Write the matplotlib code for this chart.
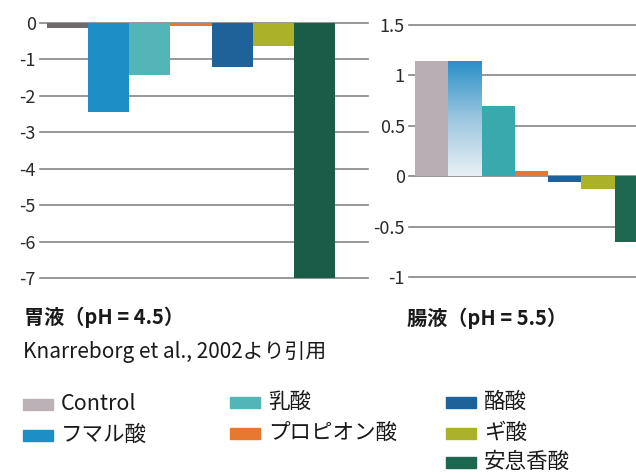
import matplotlib
matplotlib.use("Agg")
import matplotlib.pyplot as plt
import numpy as np
from matplotlib.patches import Rectangle
from matplotlib.colors import LinearSegmentedColormap

plt.rcParams['font.family'] = ['Noto Sans CJK JP', 'DejaVu Sans']

# data
acides = ['Control', 'フマル酸', '乳酸', 'プロピオン酸', '酪酸', 'ギ酸', '安息香酸']
estomac = [-0.14, -2.44, -1.43, -0.08, -1.21, -0.64, -7.0]
intestin = [1.14, 1.14, 0.70, 0.05, -0.06, -0.13, -0.655]
ticks_estomac = [0, -1, -2, -3, -4, -5, -6, -7]
labels_estomac = ['0', '-1', '-2', '-3', '-4', '-5', '-6', '-7']
ticks_intestin = [1.5, 1, 0.5, 0, -0.5, -1]
labels_intestin = ['1.5', '1', '0.5', '0', '-0.5', '-1']

couleurs_legende = ['#bbb1b7', '#1e8ec6', '#52b6b8', '#e8782f', '#1f6299', '#abb22a', '#1d6650']
couleurs_estomac = ['#6e6a6c', '#1e8ec6', '#52b6b8', '#e8782f', '#1f6299', '#abb22a', '#1a5c48']
couleurs_intestin = ['#b9aeb3', '#2a90c8', '#3aa9ad', '#e8782f', '#1f6299', '#abb22a', '#1d6650']

W, H = 636, 475
fig = plt.figure(figsize=(W / 100, H / 100), dpi=100)


def boite(x0, x1, ytop, ybot):
    return [x0 / W, 1 - ybot / H, (x1 - x0) / W, (ybot - ytop) / H]


def preparer(ax, ticks, labels):
    for s in ax.spines.values():
        s.set_visible(False)
    ax.set_xticks([])
    ax.set_yticks(ticks)
    ax.set_yticklabels(labels)
    ax.tick_params(axis='y', length=0, pad=3, labelsize=13, labelcolor='#2a2a2a')
    ax.grid(axis='y', color='#858585', linewidth=1.2)
    ax.set_axisbelow(True)
    for l in ax.get_ygridlines():
        l.set_clip_on(False)


x = np.arange(len(acides))

# gauche : estomac
ax1 = fig.add_axes(boite(40, 368, 22.7, 278))
preparer(ax1, ticks_estomac, labels_estomac)
ax1.bar(x, estomac, width=1.0, color=couleurs_estomac, zorder=3)
ax1.set_ylim(-7, 0)
ax1.set_xlim(-0.67, 7.30)

# droite : intestin
ax2 = fig.add_axes(boite(409, 636, 25, 277))
preparer(ax2, ticks_intestin, labels_intestin)
barres = ax2.bar(x, intestin, width=1.0, color=couleurs_intestin, zorder=3)

# degrade de la barre fumarique
b = barres[1]
cmap = LinearSegmentedColormap.from_list('fum', ['#e9f0f5', '#9cc6df', '#2a90c8'])
grad = np.linspace(0, 1, 256).reshape(-1, 1)
im = ax2.imshow(grad, cmap=cmap, origin='lower', aspect='auto', zorder=4,
                extent=[b.get_x(), b.get_x() + b.get_width(), 0, b.get_height()])
im.set_clip_path(b)
ax2.set_xlim(-0.68, 6.14)
ax2.set_ylim(-1, 1.5)

# textes
fig.text(24 / W, 1 - 317 / H, '胃液（pH = 4.5）', fontsize=14.5, fontweight='bold',
         va='center', ha='left', color='#1a1a1a')
fig.text(407 / W, 1 - 318 / H, '腸液（pH = 5.5）', fontsize=14.5, fontweight='bold',
         va='center', ha='left', color='#1a1a1a')
fig.text(23 / W, 1 - 352 / H, 'Knarreborg et al., 2002より引用', fontsize=15,
         va='center', ha='left', color='#1a1a1a')

# legende
positions = [(23, 404), (23, 435), (230, 402), (230, 433), (446, 402), (446, 433), (446, 462)]
for nom, coul, (px, py) in zip(acides, couleurs_legende, positions):
    fig.patches.append(Rectangle((px / W, 1 - (py + 5.5) / H), 30 / W, 11 / H,
                                 transform=fig.transFigure, color=coul))
    fig.text((px + 38) / W, 1 - py / H, nom, fontsize=15.5, va='center', ha='left',
             color='#1a1a1a')

fig.savefig('out.png', dpi=100)
